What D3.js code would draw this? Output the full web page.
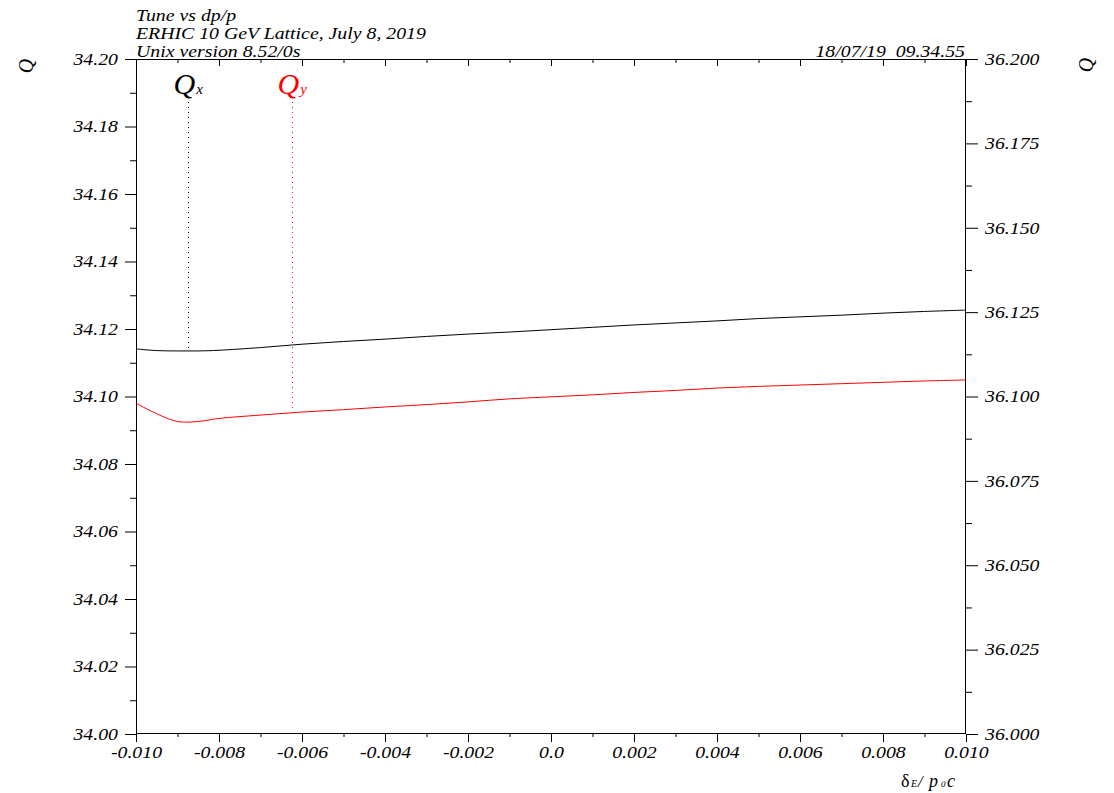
<!DOCTYPE html>
<html>
<head>
<meta charset="utf-8">
<script src="https://cdn.jsdelivr.net/npm/d3@7"></script>
<style>
  html, body { margin: 0; padding: 0; background: #fff; }
  svg { display: block; }
  text { font-family: "Liberation Serif", "Times New Roman", serif; font-style: italic; }
</style>
</head>
<body>
<svg id="chart" width="1114" height="793"></svg>
<script>
// Momentum offset dp/p
const dpp = [-0.010, -0.0095, -0.009, -0.0085, -0.008, -0.007, -0.006, -0.005, -0.004, -0.003, -0.002, -0.001,
             0.000, 0.001, 0.002, 0.003, 0.004, 0.005, 0.006, 0.007, 0.008, 0.009, 0.010];
// Horizontal tune (left axis)
const qx = [34.1141, 34.1136, 34.1135, 34.1135, 34.1137, 34.1145, 34.1155, 34.1163, 34.1170, 34.1178, 34.1185, 34.1191,
            34.1198, 34.1205, 34.1212, 34.1218, 34.1224, 34.1231, 34.1236, 34.1241, 34.1247, 34.1252, 34.1256];
// Vertical tune (right axis)
const qy = [36.0980, 36.0949, 36.0926, 36.0926, 36.0935, 36.0945, 36.0954, 36.0961, 36.0969, 36.0976, 36.0984, 36.0993,
            36.0999, 36.1005, 36.1012, 36.1018, 36.1025, 36.1030, 36.1034, 36.1038, 36.1042, 36.1046, 36.1049];

const xMajor = [-0.010, -0.008, -0.006, -0.004, -0.002, 0.000, 0.002, 0.004, 0.006, 0.008, 0.010];
const xMinor = [-0.009, -0.007, -0.005, -0.003, -0.001, 0.001, 0.003, 0.005, 0.007, 0.009];
const yLeftMajor = [34.00, 34.02, 34.04, 34.06, 34.08, 34.10, 34.12, 34.14, 34.16, 34.18, 34.20];
const yLeftMinor = [34.01, 34.03, 34.05, 34.07, 34.09, 34.11, 34.13, 34.15, 34.17, 34.19];
const yRightMajor = [36.000, 36.025, 36.050, 36.075, 36.100, 36.125, 36.150, 36.175, 36.200];
const yRightMinor = [36.0125, 36.0375, 36.0625, 36.0875, 36.1125, 36.1375, 36.1625, 36.1875];

// Legend markers: subscript, position on dp/p axis
const markerNames = ["x", "y"];
const markerDpp = [-0.00875, -0.00624];

const titleLines = ["Tune vs dp/p", "ERHIC 10 GeV Lattice, July 8, 2019", "Unix version 8.52/0s"];
const stamp = "18/07/19  09.34.55";

const L = 136, R = 966, T = 59, B = 734;
const FS = 16.5, SX = 1.2;  // text is drawn horizontally widened

const svg = d3.select("#chart");

const x = d3.scaleLinear().domain([-0.010, 0.010]).range([L, R]);
const yL = d3.scaleLinear().domain([34.00, 34.20]).range([B, T]);
const yR = d3.scaleLinear().domain([36.000, 36.200]).range([B, T]);

function widen(sel) {
  sel.each(function () {
    const t = d3.select(this);
    const tx = +t.attr("x") || 0, ty = +t.attr("y") || 0;
    t.attr("x", 0).attr("y", 0).attr("transform", `translate(${tx},${ty}) scale(${SX},1)`);
  });
}

const fmtX = d => d === 0 ? "0.0" : d3.format(".3f")(d).replace("\u2212", "-");

function styleAxis(g) {
  g.select(".domain").remove();
  g.selectAll("line").attr("stroke", "#000").attr("stroke-width", 1);
  g.selectAll("text").attr("font-size", FS).attr("font-family", null).attr("fill", "#000");
}

// Bottom axis (ticks outward)
const gB = svg.append("g").attr("transform", `translate(0,${B})`)
  .call(d3.axisBottom(x).tickValues(xMajor).tickSize(8).tickPadding(4).tickFormat(fmtX));
styleAxis(gB);
gB.selectAll("text").attr("dy", null).attr("y", 24);
widen(gB.selectAll("text"));
const gBm = svg.append("g").attr("transform", `translate(0,${B})`)
  .call(d3.axisBottom(x).tickValues(xMinor).tickSize(3).tickFormat(""));
styleAxis(gBm);

// Top axis (ticks inward)
const gT = svg.append("g").attr("transform", `translate(0,${T})`)
  .call(d3.axisBottom(x).tickValues(xMajor).tickSize(7).tickFormat(""));
styleAxis(gT);
const gTm = svg.append("g").attr("transform", `translate(0,${T})`)
  .call(d3.axisBottom(x).tickValues(xMinor).tickSize(4).tickFormat(""));
styleAxis(gTm);

// Left axis
const gL = svg.append("g").attr("transform", `translate(${L},0)`)
  .call(d3.axisLeft(yL).tickValues(yLeftMajor).tickSize(11).tickPadding(7).tickFormat(d3.format(".2f")));
styleAxis(gL);
widen(gL.selectAll("text"));
const gLm = svg.append("g").attr("transform", `translate(${L},0)`)
  .call(d3.axisLeft(yL).tickValues(yLeftMinor).tickSize(6).tickFormat(""));
styleAxis(gLm);

// Right axis
const gR = svg.append("g").attr("transform", `translate(${R},0)`)
  .call(d3.axisRight(yR).tickValues(yRightMajor).tickSize(12).tickPadding(7).tickFormat(d3.format(".3f")));
styleAxis(gR);
widen(gR.selectAll("text"));
const gRm = svg.append("g").attr("transform", `translate(${R},0)`)
  .call(d3.axisRight(yR).tickValues(yRightMinor).tickSize(6).tickFormat(""));
styleAxis(gRm);

// Frame
svg.append("rect").attr("x", L + 0.5).attr("y", T + 0.5)
  .attr("width", R - L - 1).attr("height", B - T - 1)
  .attr("fill", "none").attr("stroke", "#000").attr("stroke-width", 1);

// Tune curves
const lineX = d3.line().x((d, i) => x(dpp[i])).y(d => yL(d)).curve(d3.curveCatmullRom.alpha(0.5));
const lineY = d3.line().x((d, i) => x(dpp[i])).y(d => yR(d)).curve(d3.curveCatmullRom.alpha(0.5));
svg.append("path").datum(qx).attr("d", lineX).attr("fill", "none").attr("stroke", "#000").attr("stroke-width", 1);
svg.append("path").datum(qy).attr("d", lineY).attr("fill", "none").attr("stroke", "#ff0000").attr("stroke-width", 1);

// Legend markers with dotted drop lines
const interpX = d3.scaleLinear().domain(dpp).range(qx);
const interpY = d3.scaleLinear().domain(dpp).range(qy);
const markerColor = ["#000", "#ff0000"];
const markerEnd = [yL(interpX(markerDpp[0])), yR(interpY(markerDpp[1]))];
markerNames.forEach((nm, i) => {
  const px = Math.round(x(markerDpp[i])) + 0.5;
  svg.append("line").attr("x1", px).attr("x2", px).attr("y1", 102).attr("y2", markerEnd[i])
    .attr("stroke", markerColor[i]).attr("stroke-width", 1).attr("stroke-dasharray", "1,4");
  const t = svg.append("text").attr("x", px - 15).attr("y", 94).attr("fill", markerColor[i]);
  t.append("tspan").attr("font-size", 30).text("Q");
  t.append("tspan").attr("font-size", 15).attr("dx", 1).text(nm);
});

// Titles
const heads = svg.append("g");
titleLines.forEach((s, i) => {
  heads.append("text").attr("x", L).attr("y", 21 + i * 18).attr("font-size", FS).attr("fill", "#000").text(s);
});
heads.append("text").attr("x", 965).attr("y", 57).attr("font-size", FS).attr("fill", "#000")
  .attr("text-anchor", "end").attr("xml:space", "preserve").style("white-space", "pre").text(stamp);
widen(heads.selectAll("text"));

// Axis titles
svg.append("text").attr("transform", "translate(33,66) rotate(-90)")
  .attr("text-anchor", "middle").attr("font-size", 20).attr("fill", "#000").text("Q");
svg.append("text").attr("transform", "translate(1093,65) rotate(-90)")
  .attr("text-anchor", "middle").attr("font-size", 20).attr("fill", "#000").text("Q");

// Horizontal axis title: δE / p0c
const xt = svg.append("text").attr("y", 787).attr("fill", "#000");
xt.append("tspan").attr("x", 901).attr("font-size", 18).style("font-style", "normal").text("δ");
xt.append("tspan").attr("x", 911).attr("font-size", 10).text("E");
xt.append("tspan").attr("x", 918).attr("font-size", 17).text("/");
xt.append("tspan").attr("x", 929).attr("font-size", 18).text("p");
xt.append("tspan").attr("x", 941).attr("font-size", 9).text("0");
xt.append("tspan").attr("x", 947).attr("font-size", 18).text("c");
</script>
</body>
</html>
